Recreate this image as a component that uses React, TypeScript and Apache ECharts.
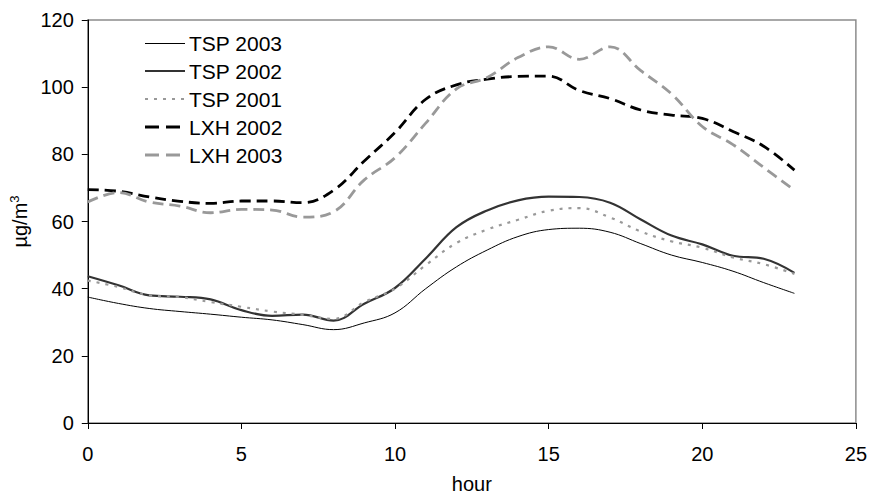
import React, { useEffect, useRef } from "react";
import * as echarts from "echarts";

const hours = [0, 1, 2, 3, 4, 5, 6, 7, 8, 9, 10, 11, 12, 13, 14, 15, 16, 17, 18, 19, 20, 21, 22, 23];
const tsp2003 = [37.5, 35.6, 34.1, 33.2, 32.4, 31.5, 30.7, 29.3, 27.8, 29.8, 32.8, 40, 46.5, 51.5, 55.5, 57.6, 58, 56.8, 53.4, 50, 47.8, 45.2, 41.8, 38.6];
const tsp2002 = [43.7, 41, 38, 37.6, 36.8, 33.6, 31.9, 32.3, 30.5, 35.5, 40.2, 49, 58.3, 63.3, 66.3, 67.4, 67.3, 65.6, 60.6, 55.8, 53.2, 49.8, 48.9, 44.7];
const tsp2001 = [42.4, 40.5, 38, 37.5, 36, 34.6, 33.2, 32.2, 31, 36, 40, 47, 53.6, 57.6, 60.5, 63.2, 64, 61.2, 57, 54.1, 52.2, 49.3, 47.3, 44.4];
const lxh2002 = [69.5, 69, 67.3, 66, 65.4, 66.1, 66.1, 65.6, 69.3, 78, 86.5, 96.4, 100.7, 102.4, 103.2, 103.3, 99, 96.6, 93.2, 91.7, 90.7, 86.8, 82.4, 75.3];
const lxh2003 = [65.8, 68.6, 65.8, 64.6, 62.6, 63.6, 63.4, 61.3, 62.9, 72.4, 79, 89.3, 99.5, 102.9, 108.8, 112, 108.3, 112, 104.9, 98, 88.3, 82.9, 76.1, 69.3];

const seriesNames = ["TSP 2003", "TSP 2002", "TSP 2001", "LXH 2002", "LXH 2003"];
const xTicks = { min: 0, max: 25, interval: 5 };
const yTicks = { min: 0, max: 120, interval: 20 };

const FONT = "'Liberation Sans', Arial, sans-serif";

const styles: { color: string; width: number; type: any; legendDash: number[] | null }[] = [
  { color: "#000000", width: 1, type: "solid", legendDash: null },
  { color: "#333333", width: 2.2, type: "solid", legendDash: null },
  { color: "#999999", width: 2.2, type: [3, 6], legendDash: [3, 6] },
  { color: "#000000", width: 2.8, type: [11, 6], legendDash: [14, 7] },
  { color: "#999999", width: 2.8, type: [11, 6], legendDash: [14, 7] },
];

function pairs(vals: number[]) {
  return hours.map((h, i) => [h, vals[i]]);
}

export default function App() {
  const ref = useRef<HTMLDivElement>(null);
  useEffect(() => {
    if (!ref.current) return;
    const chart = echarts.init(ref.current, undefined, { renderer: "svg" });
    const allData = [tsp2003, tsp2002, tsp2001, lxh2002, lxh2003];
    const series = seriesNames.map((name, i) => ({
      name,
      type: "line",
      data: pairs(allData[i]),
      smooth: 0.4,
      symbol: "none",
      showSymbol: false,
      lineStyle: { color: styles[i].color, width: styles[i].width, type: styles[i].type },
      itemStyle: { color: styles[i].color },
    }));
    const legendItems: any[] = [];
    seriesNames.forEach((name, i) => {
      const y = 43 + 28 * i;
      const ly = styles[i].width === 1 ? y + 0.5 : y;
      legendItems.push({
        type: "line",
        shape: { x1: 145, y1: ly, x2: 185, y2: ly },
        style: {
          stroke: styles[i].color,
          lineWidth: styles[i].width,
          lineDash: styles[i].legendDash,
        },
      });
      legendItems.push({
        type: "text",
        x: 189,
        y,
        style: {
          text: name,
          fontFamily: FONT,
          fontSize: 21,
          fill: "#000",
          verticalAlign: "middle",
          align: "left",
        },
      });
    });
    chart.setOption({
      animation: false,
      backgroundColor: "#ffffff",
      textStyle: { fontFamily: FONT, color: "#000" },
      grid: {
        left: 87,
        right: 11,
        top: 20,
        bottom: 69,
        show: true,
        borderColor: "#8c8c8c",
        borderWidth: 1.5,
        backgroundColor: "transparent",
      },
      graphic: legendItems,
      xAxis: {
        type: "value",
        min: xTicks.min,
        max: xTicks.max,
        interval: xTicks.interval,
        name: "hour",
        nameLocation: "middle",
        nameGap: 51,
        nameTextStyle: { fontFamily: FONT, fontSize: 20, color: "#000" },
        axisLine: { show: true, onZero: false, lineStyle: { color: "#000", width: 1 } },
        axisTick: { show: true, inside: false, length: 6, lineStyle: { color: "#000" } },
        axisLabel: { fontFamily: FONT, fontSize: 20, color: "#000", margin: 21 },
        splitLine: { show: false },
      },
      yAxis: {
        type: "value",
        min: yTicks.min,
        max: yTicks.max,
        interval: yTicks.interval,
        name: "µg/m{sup|3}",
        nameLocation: "middle",
        nameRotate: 90,
        nameGap: 47,
        nameTextStyle: {
          fontFamily: FONT,
          fontSize: 20,
          color: "#000",
          rich: { sup: { fontFamily: FONT, fontSize: 13, color: "#000", verticalAlign: "top", padding: [0, 0, 10, 0] } },
        },
        axisLine: { show: true, lineStyle: { color: "#000", width: 1 } },
        axisTick: { show: true, inside: false, length: 6, lineStyle: { color: "#000" } },
        axisLabel: { fontFamily: FONT, fontSize: 20, color: "#000", margin: 14 },
        splitLine: { show: false },
      },
      series,
    });
    return () => chart.dispose();
  }, []);
  return (
    <div
      ref={ref}
      style={{ position: "fixed", left: 0, top: 0, width: 870, height: 499, background: "#fff" }}
    />
  );
}
